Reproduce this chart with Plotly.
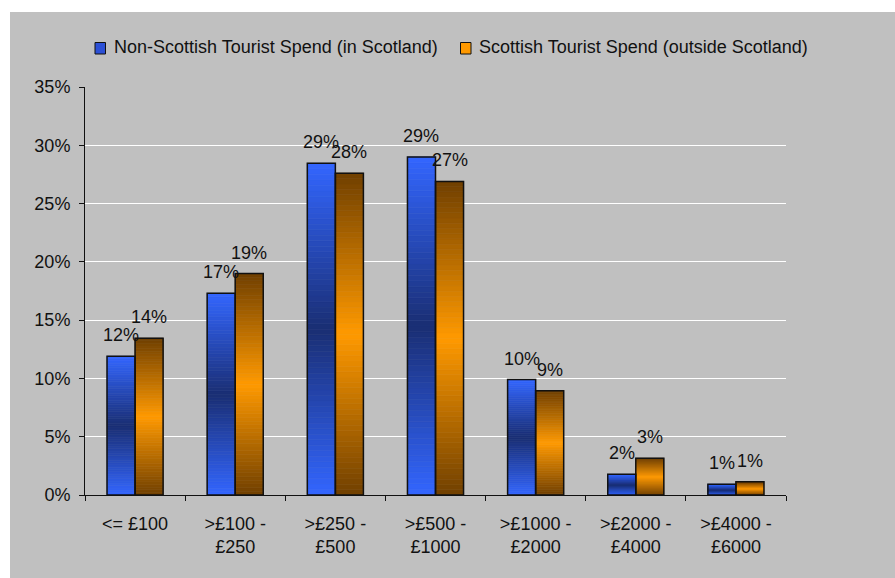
import plotly.graph_objects as go

categories = ["<= £100", ">£100 -<br>£250", ">£250 -<br>£500", ">£500 -<br>£1000",
              ">£1000 -<br>£2000", ">£2000 -<br>£4000", ">£4000 -<br>£6000"]
non_scottish = [0.119, 0.173, 0.2845, 0.290, 0.099, 0.0177, 0.0092]
scottish = [0.1345, 0.190, 0.276, 0.269, 0.0895, 0.0315, 0.0114]
non_scottish_labels = ["12%", "17%", "29%", "29%", "10%", "2%", "1%"]
scottish_labels = ["14%", "19%", "28%", "27%", "9%", "3%", "1%"]
series_names = ["Non-Scottish Tourist Spend (in Scotland)",
                "Scottish Tourist Spend (outside Scotland)"]

FONT = "Liberation Sans, Arial, sans-serif"
TXT = "#111111"
GRAY = "#c0c0c0"
W, H = 895, 578
BODY = 0  # page offset of the figure (body margin removed below)
ML, MR, MT, MB = 85, 109, 87, 83
PW, PH = W - ML - MR, H - MT - MB
BAR_W = 0.28
N_SLICES = 60
FS = 18


def px2x(page_x):
    return (page_x - BODY - ML) / PW


def px2y(page_y):
    return (H - MB - (page_y - BODY)) / PH


def lerp(c1, c2, s):
    return "rgb({},{},{})".format(*[round(a + (b - a) * s) for a, b in zip(c1, c2)])


def gradient_trace(values, edge, center, offset):
    xs, ys, bases, cols = [], [], [], []
    for k in range(N_SLICES):
        t = (k + 0.5) / N_SLICES
        s = 1 - abs(2 * t - 1)
        col = lerp(edge, center, s)
        for c, v in zip(categories, values):
            xs.append(c)
            ys.append(v / N_SLICES)
            bases.append(v * k / N_SLICES)
            cols.append(col)
    return go.Bar(x=xs, y=ys, base=bases, width=BAR_W, offset=offset,
                  marker=dict(color=cols, line=dict(color=cols, width=0.6)),
                  showlegend=False, hoverinfo="skip")


fig = go.Figure()
specs = [
    (non_scottish, non_scottish_labels, (51, 102, 255), (26, 46, 115), -BAR_W, series_names[0]),
    (scottish, scottish_labels, (112, 64, 0), (255, 153, 0), 0.0, series_names[1]),
]
for vals, labs, edge, center, off, name in specs:
    fig.add_trace(gradient_trace(vals, edge, center, off))
for vals, labs, edge, center, off, name in specs:
    fig.add_trace(go.Bar(
        x=categories, y=vals, width=BAR_W, offset=off, name=name,
        marker=dict(color="rgba(0,0,0,0)", line=dict(color=TXT, width=1.5)),
        showlegend=False))

# data labels
for vals, labs, edge, center, off, name in specs:
    shift = (off + BAR_W / 2) * PW / len(categories)
    for c, v, lab in zip(categories, vals, labs):
        fig.add_annotation(x=c, y=v, text=lab, showarrow=False, xshift=shift,
                           yanchor="bottom", yshift=9,
                           font=dict(family=FONT, size=FS, color=TXT))

# background panel
fig.add_shape(type="rect", xref="paper", yref="paper", layer="below",
              x0=px2x(10), x1=px2x(W + 20), y0=px2y(H + 20), y1=px2y(12),
              fillcolor=GRAY, line=dict(width=0))

# legend (manual)
legend_items = [
    (series_names[0], "#2c50d6", 95, 111.5),
    (series_names[1], "#ff9900", 460.5, 477),
]
for name, col, sx, tx in legend_items:
    fig.add_shape(type="rect", xref="paper", yref="paper",
                  x0=px2x(sx), x1=px2x(sx + 10.5), y0=px2y(54), y1=px2y(42.5),
                  fillcolor=col, line=dict(color=TXT, width=1))
    fig.add_annotation(xref="paper", yref="paper", x=px2x(tx), y=px2y(47),
                       xanchor="left", yanchor="middle", text=name, showarrow=False,
                       font=dict(family=FONT, size=FS, color=TXT))

fig.update_layout(
    width=W, height=H,
    margin=dict(l=ML, r=MR, t=MT, b=MB),
    paper_bgcolor="white", plot_bgcolor=GRAY,
    barmode="overlay", showlegend=False,
    font=dict(family=FONT, size=FS, color=TXT),
    xaxis=dict(showline=True, linecolor=TXT, linewidth=1, ticks="outside",
               tickson="boundaries", ticklen=5, tickcolor=TXT, showgrid=False,
               ticklabelstandoff=12,
               tickfont=dict(family=FONT, size=FS, color=TXT)),
    yaxis=dict(range=[0, 0.35], dtick=0.05, tickformat=".0%", showline=True,
               linecolor=TXT, linewidth=1, ticks="outside", ticklen=5,
               tickcolor=TXT, gridcolor="white", gridwidth=1, zeroline=False,
               ticklabelstandoff=5,
               tickfont=dict(family=FONT, size=FS, color=TXT)),
)

fig.write_html(
    "out.html",
    config={"displayModeBar": False},
    post_script=(
        "document.documentElement.style.overflow='hidden';"
        "document.documentElement.style.background='" + GRAY + "';"
        "document.body.style.overflow='hidden';"
        "document.body.style.margin='0';"
        "document.body.style.background='" + GRAY + "';"
    ),
)
